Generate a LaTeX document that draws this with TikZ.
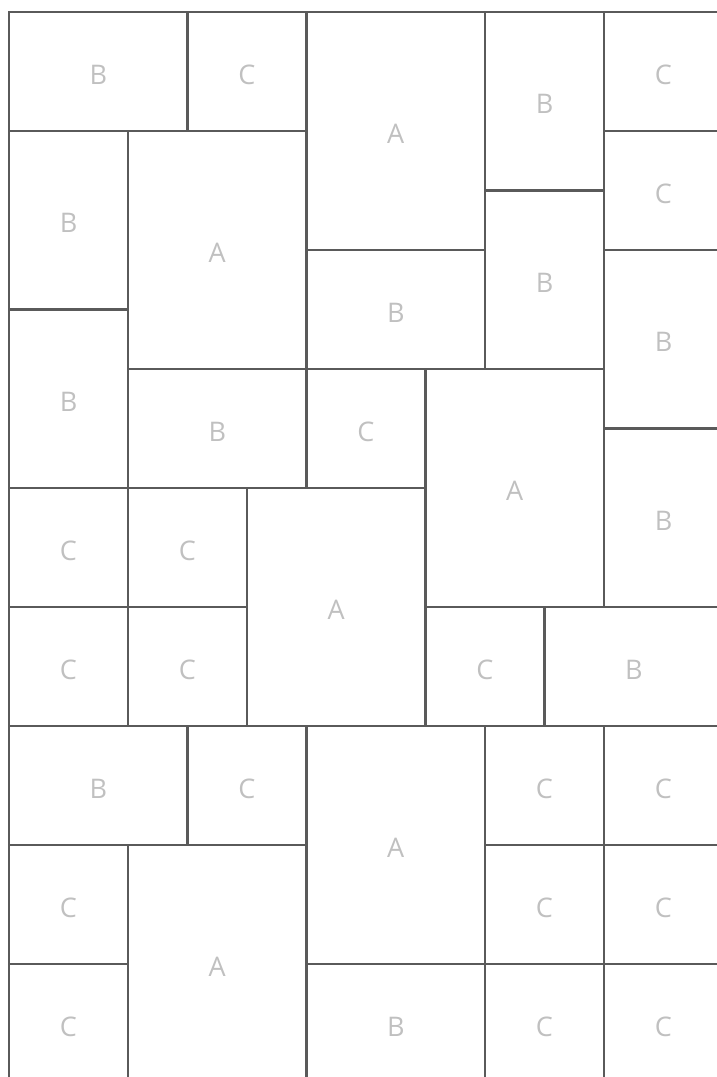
\documentclass[tikz,border=0pt]{standalone}
\usepackage{fontspec}
\setmainfont{Open Sans}
\definecolor{linegray}{HTML}{5A5A5A}
\definecolor{lblgray}{HTML}{C0C0C0}
\newcommand\mytile[6]{%
  \draw[tileline] ({9+59.5*#2},{12+59.5*#3}) rectangle ++({59.5*#4},{59.5*#5});
  \node[lbl] (#1) at ({9+59.5*(#2+#4/2)},{12+59.5*(#3+#5/2)+3}) {#6};
}
\begin{document}
\begin{tikzpicture}[x=1pt,y=-1pt,
  tileline/.style={draw=linegray,line width=2.2pt},
  lbl/.style={text=lblgray,font=\fontsize{27}{32}\selectfont,inner sep=0pt}]
\useasboundingbox (0,0) rectangle (717,1077);
\clip (0,0) rectangle (717,1077);
\mytile{t1}{0}{0}{3}{2}{B}
\mytile{t2}{3}{0}{2}{2}{C}
\mytile{t3}{5}{0}{3}{4}{A}
\mytile{t4}{8}{0}{2}{3}{B}
\mytile{t5}{10}{0}{2}{2}{C}
\mytile{t6}{0}{2}{2}{3}{B}
\mytile{t7}{2}{2}{3}{4}{A}
\mytile{t8}{10}{2}{2}{2}{C}
\mytile{t9}{5}{4}{3}{2}{B}
\mytile{t10}{8}{3}{2}{3}{B}
\mytile{t11}{10}{4}{2}{3}{B}
\mytile{t12}{0}{5}{2}{3}{B}
\mytile{t13}{2}{6}{3}{2}{B}
\mytile{t14}{5}{6}{2}{2}{C}
\mytile{t15}{7}{6}{3}{4}{A}
\mytile{t16}{10}{7}{2}{3}{B}
\mytile{t17}{0}{8}{2}{2}{C}
\mytile{t18}{2}{8}{2}{2}{C}
\mytile{t19}{4}{8}{3}{4}{A}
\mytile{t20}{0}{10}{2}{2}{C}
\mytile{t21}{2}{10}{2}{2}{C}
\mytile{t22}{7}{10}{2}{2}{C}
\mytile{t23}{9}{10}{3}{2}{B}
\mytile{t24}{0}{12}{3}{2}{B}
\mytile{t25}{3}{12}{2}{2}{C}
\mytile{t26}{5}{12}{3}{4}{A}
\mytile{t27}{8}{12}{2}{2}{C}
\mytile{t28}{10}{12}{2}{2}{C}
\mytile{t29}{0}{14}{2}{2}{C}
\mytile{t30}{2}{14}{3}{4}{A}
\mytile{t31}{8}{14}{2}{2}{C}
\mytile{t32}{10}{14}{2}{2}{C}
\mytile{t33}{0}{16}{2}{2}{C}
\mytile{t34}{5}{16}{3}{2}{B}
\mytile{t35}{8}{16}{2}{2}{C}
\mytile{t36}{10}{16}{2}{2}{C}
\end{tikzpicture}
\end{document}
